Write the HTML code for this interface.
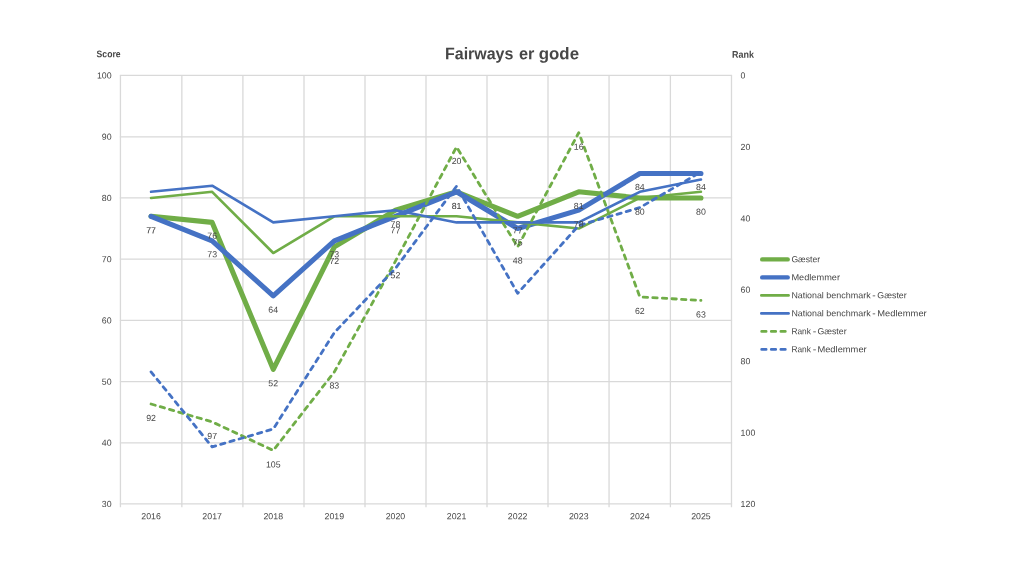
<!DOCTYPE html>
<html><head><meta charset="utf-8"><title>Fairways er gode</title>
<style>html,body{margin:0;padding:0;background:#fff;}svg{display:block;}text{font-family:"Liberation Sans",sans-serif;fill:#474747;}</style></head><body>
<svg xmlns="http://www.w3.org/2000/svg" width="1024" height="576" viewBox="0 0 1024 576">
<defs><filter id="b" x="0" y="0" width="1024" height="576" filterUnits="userSpaceOnUse"><feGaussianBlur stdDeviation="0.35"/></filter><filter id="bg" x="0" y="0" width="1024" height="576" filterUnits="userSpaceOnUse"><feGaussianBlur stdDeviation="0.4"/></filter></defs>
<rect width="1024" height="576" fill="#fff"/>
<g filter="url(#b)">
<g stroke="#D9D9D9" stroke-width="1.3" fill="none" filter="url(#bg)">
<line x1="119.85" y1="75.45" x2="732.10" y2="75.45"/>
<line x1="119.85" y1="136.85" x2="732.10" y2="136.85"/>
<line x1="119.85" y1="197.93" x2="732.10" y2="197.93"/>
<line x1="119.85" y1="259.15" x2="732.10" y2="259.15"/>
<line x1="119.85" y1="320.30" x2="732.10" y2="320.30"/>
<line x1="119.85" y1="381.55" x2="732.10" y2="381.55"/>
<line x1="119.85" y1="442.78" x2="732.10" y2="442.78"/>
<line x1="119.85" y1="503.95" x2="732.10" y2="503.95"/>
<line x1="120.45" y1="75.45" x2="120.45" y2="507.35"/>
<line x1="181.85" y1="75.45" x2="181.85" y2="507.35"/>
<line x1="242.90" y1="75.45" x2="242.90" y2="507.35"/>
<line x1="304.00" y1="75.45" x2="304.00" y2="507.35"/>
<line x1="365.00" y1="75.45" x2="365.00" y2="507.35"/>
<line x1="426.00" y1="75.45" x2="426.00" y2="507.35"/>
<line x1="487.00" y1="75.45" x2="487.00" y2="507.35"/>
<line x1="548.00" y1="75.45" x2="548.00" y2="507.35"/>
<line x1="609.05" y1="75.45" x2="609.05" y2="507.35"/>
<line x1="670.40" y1="75.45" x2="670.40" y2="507.35"/>
<line x1="731.50" y1="75.45" x2="731.50" y2="507.35"/>
</g>
<polyline points="151.05,216.29 212.15,222.41 273.25,369.33 334.35,246.90 395.45,210.17 456.55,191.81 517.65,216.29 578.75,191.81 639.85,197.93 700.95,197.93" fill="none" stroke="#70AD47" stroke-width="5.1" stroke-linejoin="round" stroke-linecap="round"/>
<polyline points="151.05,216.29 212.15,240.78 273.25,295.87 334.35,240.78 395.45,216.29 456.55,191.81 517.65,228.54 578.75,210.17 639.85,173.44 700.95,173.44" fill="none" stroke="#4472C4" stroke-width="5.1" stroke-linejoin="round" stroke-linecap="round"/>
<polyline points="151.05,197.93 212.15,191.81 273.25,253.02 334.35,216.29 395.45,216.29 456.55,216.29 517.65,222.41 578.75,228.54 639.85,197.93 700.95,191.81" fill="none" stroke="#70AD47" stroke-width="2.6" stroke-linejoin="round" stroke-linecap="round"/>
<polyline points="151.05,191.81 212.15,185.69 273.25,222.41 334.35,216.29 395.45,210.17 456.55,222.41 517.65,222.41 578.75,222.41 639.85,191.81 700.95,179.56" fill="none" stroke="#4472C4" stroke-width="2.6" stroke-linejoin="round" stroke-linecap="round"/>
<polyline points="151.05,404.02 212.15,421.87 273.25,450.44 334.35,371.88 395.45,261.18 456.55,146.92 517.65,246.90 578.75,132.63 639.85,296.89 700.95,300.46" fill="none" stroke="#70AD47" stroke-width="2.8" stroke-linejoin="round" stroke-linecap="round" stroke-dasharray="4.4 5.2"/>
<polyline points="151.05,371.88 212.15,446.87 273.25,429.01 334.35,332.60 395.45,268.32 456.55,186.20 517.65,293.32 578.75,225.47 639.85,207.62 700.95,171.91" fill="none" stroke="#4472C4" stroke-width="2.8" stroke-linejoin="round" stroke-linecap="round" stroke-dasharray="4.4 5.2"/>
<g font-size="8.8">
<text transform="rotate(0.06 111.6 78.60)" x="111.6" y="78.60" text-anchor="end">100</text>
<text transform="rotate(0.06 111.6 139.81)" x="111.6" y="139.81" text-anchor="end">90</text>
<text transform="rotate(0.06 111.6 201.03)" x="111.6" y="201.03" text-anchor="end">80</text>
<text transform="rotate(0.06 111.6 262.24)" x="111.6" y="262.24" text-anchor="end">70</text>
<text transform="rotate(0.06 111.6 323.46)" x="111.6" y="323.46" text-anchor="end">60</text>
<text transform="rotate(0.06 111.6 384.67)" x="111.6" y="384.67" text-anchor="end">50</text>
<text transform="rotate(0.06 111.6 445.89)" x="111.6" y="445.89" text-anchor="end">40</text>
<text transform="rotate(0.06 111.6 507.10)" x="111.6" y="507.10" text-anchor="end">30</text>
<text transform="rotate(0.06 740.6 78.60)" x="740.6" y="78.60">0</text>
<text transform="rotate(0.06 740.6 150.02)" x="740.6" y="150.02">20</text>
<text transform="rotate(0.06 740.6 221.43)" x="740.6" y="221.43">40</text>
<text transform="rotate(0.06 740.6 292.85)" x="740.6" y="292.85">60</text>
<text transform="rotate(0.06 740.6 364.27)" x="740.6" y="364.27">80</text>
<text transform="rotate(0.06 740.6 435.68)" x="740.6" y="435.68">100</text>
<text transform="rotate(0.06 740.6 507.10)" x="740.6" y="507.10">120</text>
<text transform="rotate(0.06 151.05 519.2)" x="151.05" y="519.2" text-anchor="middle">2016</text>
<text transform="rotate(0.06 212.15 519.2)" x="212.15" y="519.2" text-anchor="middle">2017</text>
<text transform="rotate(0.06 273.25 519.2)" x="273.25" y="519.2" text-anchor="middle">2018</text>
<text transform="rotate(0.06 334.35 519.2)" x="334.35" y="519.2" text-anchor="middle">2019</text>
<text transform="rotate(0.06 395.45 519.2)" x="395.45" y="519.2" text-anchor="middle">2020</text>
<text transform="rotate(0.06 456.55 519.2)" x="456.55" y="519.2" text-anchor="middle">2021</text>
<text transform="rotate(0.06 517.65 519.2)" x="517.65" y="519.2" text-anchor="middle">2022</text>
<text transform="rotate(0.06 578.75 519.2)" x="578.75" y="519.2" text-anchor="middle">2023</text>
<text transform="rotate(0.06 639.85 519.2)" x="639.85" y="519.2" text-anchor="middle">2024</text>
<text transform="rotate(0.06 700.95 519.2)" x="700.95" y="519.2" text-anchor="middle">2025</text>
<text transform="rotate(0.06 151.05 233.39)" x="151.05" y="233.39" text-anchor="middle">77</text>
<text transform="rotate(0.06 212.15 238.81)" x="212.15" y="238.81" text-anchor="middle">76</text>
<text transform="rotate(0.06 273.25 386.23)" x="273.25" y="386.23" text-anchor="middle">52</text>
<text transform="rotate(0.06 334.35 264.00)" x="334.35" y="264.00" text-anchor="middle">72</text>
<text transform="rotate(0.06 395.45 227.27)" x="395.45" y="227.27" text-anchor="middle">78</text>
<text transform="rotate(0.06 456.55 208.91)" x="456.55" y="208.91" text-anchor="middle">81</text>
<text transform="rotate(0.06 517.65 233.39)" x="517.65" y="233.39" text-anchor="middle">77</text>
<text transform="rotate(0.06 578.75 208.91)" x="578.75" y="208.91" text-anchor="middle">81</text>
<text transform="rotate(0.06 639.85 214.78)" x="639.85" y="214.78" text-anchor="middle">80</text>
<text transform="rotate(0.06 700.95 214.78)" x="700.95" y="214.78" text-anchor="middle">80</text>
<text transform="rotate(0.06 151.05 233.39)" x="151.05" y="233.39" text-anchor="middle" opacity="0.35">77</text>
<text transform="rotate(0.06 212.15 257.18)" x="212.15" y="257.18" text-anchor="middle">73</text>
<text transform="rotate(0.06 273.25 312.77)" x="273.25" y="312.77" text-anchor="middle">64</text>
<text transform="rotate(0.06 334.35 257.18)" x="334.35" y="257.18" text-anchor="middle">73</text>
<text transform="rotate(0.06 395.45 233.39)" x="395.45" y="233.39" text-anchor="middle">77</text>
<text transform="rotate(0.06 456.55 208.91)" x="456.55" y="208.91" text-anchor="middle" opacity="0.35">81</text>
<text transform="rotate(0.06 517.65 245.44)" x="517.65" y="245.44" text-anchor="middle">75</text>
<text transform="rotate(0.06 578.75 227.27)" x="578.75" y="227.27" text-anchor="middle">78</text>
<text transform="rotate(0.06 639.85 190.09)" x="639.85" y="190.09" text-anchor="middle">84</text>
<text transform="rotate(0.06 700.95 190.09)" x="700.95" y="190.09" text-anchor="middle">84</text>
<text transform="rotate(0.06 151.05 421.12)" x="151.05" y="421.12" text-anchor="middle">92</text>
<text transform="rotate(0.06 212.15 438.97)" x="212.15" y="438.97" text-anchor="middle">97</text>
<text transform="rotate(0.06 273.25 467.54)" x="273.25" y="467.54" text-anchor="middle">105</text>
<text transform="rotate(0.06 334.35 388.48)" x="334.35" y="388.48" text-anchor="middle">83</text>
<text transform="rotate(0.06 395.45 278.28)" x="395.45" y="278.28" text-anchor="middle">52</text>
<text transform="rotate(0.06 456.55 164.02)" x="456.55" y="164.02" text-anchor="middle">20</text>
<text transform="rotate(0.06 517.65 263.55)" x="517.65" y="263.55" text-anchor="middle">48</text>
<text transform="rotate(0.06 578.75 149.73)" x="578.75" y="149.73" text-anchor="middle">16</text>
<text transform="rotate(0.06 639.85 313.99)" x="639.85" y="313.99" text-anchor="middle">62</text>
<text transform="rotate(0.06 700.95 317.56)" x="700.95" y="317.56" text-anchor="middle">63</text>
</g>
<text transform="rotate(0.06 445.00 59.3)" x="445.00" y="59.3" font-size="16.8" font-weight="bold" fill="#5a5a5a" textLength="68.40" lengthAdjust="spacingAndGlyphs">Fairways</text>
<text transform="rotate(0.06 518.90 59.3)" x="518.90" y="59.3" font-size="16.8" font-weight="bold" fill="#5a5a5a" textLength="15.40" lengthAdjust="spacingAndGlyphs">er</text>
<text transform="rotate(0.06 538.80 59.3)" x="538.80" y="59.3" font-size="16.8" font-weight="bold" fill="#5a5a5a" textLength="40.20" lengthAdjust="spacingAndGlyphs">gode</text>
<text transform="rotate(0.06 96.6 57.3)" x="96.6" y="57.3" font-size="9.7" font-weight="bold" fill="#5a5a5a" textLength="24" lengthAdjust="spacingAndGlyphs">Score</text>
<text transform="rotate(0.06 732.1 57.7)" x="732.1" y="57.7" font-size="9.7" font-weight="bold" fill="#5a5a5a" textLength="21.9" lengthAdjust="spacingAndGlyphs">Rank</text>
<line x1="762.20" y1="259.40" x2="787.70" y2="259.40" stroke="#70AD47" stroke-width="4.4" stroke-linecap="round"/>
<text transform="rotate(0.06 791.40 262.20)" x="791.40" y="262.20" font-size="8.8" textLength="28.80" lengthAdjust="spacingAndGlyphs">Gæster</text>
<line x1="762.20" y1="277.40" x2="787.70" y2="277.40" stroke="#4472C4" stroke-width="4.4" stroke-linecap="round"/>
<text transform="rotate(0.06 791.40 280.20)" x="791.40" y="280.20" font-size="8.8" textLength="48.60" lengthAdjust="spacingAndGlyphs">Medlemmer</text>
<line x1="761.30" y1="295.40" x2="788.60" y2="295.40" stroke="#70AD47" stroke-width="2.6" stroke-linecap="round"/>
<text transform="rotate(0.06 791.40 298.20)" x="791.40" y="298.20" font-size="8.8" textLength="32.40" lengthAdjust="spacingAndGlyphs">National</text>
<text transform="rotate(0.06 826.30 298.20)" x="826.30" y="298.20" font-size="8.8" textLength="44.40" lengthAdjust="spacingAndGlyphs">benchmark</text>
<text transform="rotate(0.06 872.30 298.20)" x="872.30" y="298.20" font-size="8.8" textLength="3.40" lengthAdjust="spacingAndGlyphs">-</text>
<text transform="rotate(0.06 877.30 298.20)" x="877.30" y="298.20" font-size="8.8" textLength="29.40" lengthAdjust="spacingAndGlyphs">Gæster</text>
<line x1="761.30" y1="313.40" x2="788.60" y2="313.40" stroke="#4472C4" stroke-width="2.6" stroke-linecap="round"/>
<text transform="rotate(0.06 791.40 316.20)" x="791.40" y="316.20" font-size="8.8" textLength="32.40" lengthAdjust="spacingAndGlyphs">National</text>
<text transform="rotate(0.06 826.30 316.20)" x="826.30" y="316.20" font-size="8.8" textLength="44.40" lengthAdjust="spacingAndGlyphs">benchmark</text>
<text transform="rotate(0.06 872.30 316.20)" x="872.30" y="316.20" font-size="8.8" textLength="3.40" lengthAdjust="spacingAndGlyphs">-</text>
<text transform="rotate(0.06 877.30 316.20)" x="877.30" y="316.20" font-size="8.8" textLength="49.40" lengthAdjust="spacingAndGlyphs">Medlemmer</text>
<line x1="761.7" y1="331.40" x2="787" y2="331.40" stroke="#70AD47" stroke-width="2.8" stroke-linecap="round" stroke-dasharray="4.4 5.2"/>
<text transform="rotate(0.06 791.40 334.20)" x="791.40" y="334.20" font-size="8.8" textLength="19.50" lengthAdjust="spacingAndGlyphs">Rank</text>
<text transform="rotate(0.06 812.70 334.20)" x="812.70" y="334.20" font-size="8.8" textLength="3.60" lengthAdjust="spacingAndGlyphs">-</text>
<text transform="rotate(0.06 817.40 334.20)" x="817.40" y="334.20" font-size="8.8" textLength="29.20" lengthAdjust="spacingAndGlyphs">Gæster</text>
<line x1="761.7" y1="349.40" x2="787" y2="349.40" stroke="#4472C4" stroke-width="2.8" stroke-linecap="round" stroke-dasharray="4.4 5.2"/>
<text transform="rotate(0.06 791.40 352.20)" x="791.40" y="352.20" font-size="8.8" textLength="19.50" lengthAdjust="spacingAndGlyphs">Rank</text>
<text transform="rotate(0.06 812.70 352.20)" x="812.70" y="352.20" font-size="8.8" textLength="3.60" lengthAdjust="spacingAndGlyphs">-</text>
<text transform="rotate(0.06 817.40 352.20)" x="817.40" y="352.20" font-size="8.8" textLength="49.30" lengthAdjust="spacingAndGlyphs">Medlemmer</text>
</g></svg></body></html>
